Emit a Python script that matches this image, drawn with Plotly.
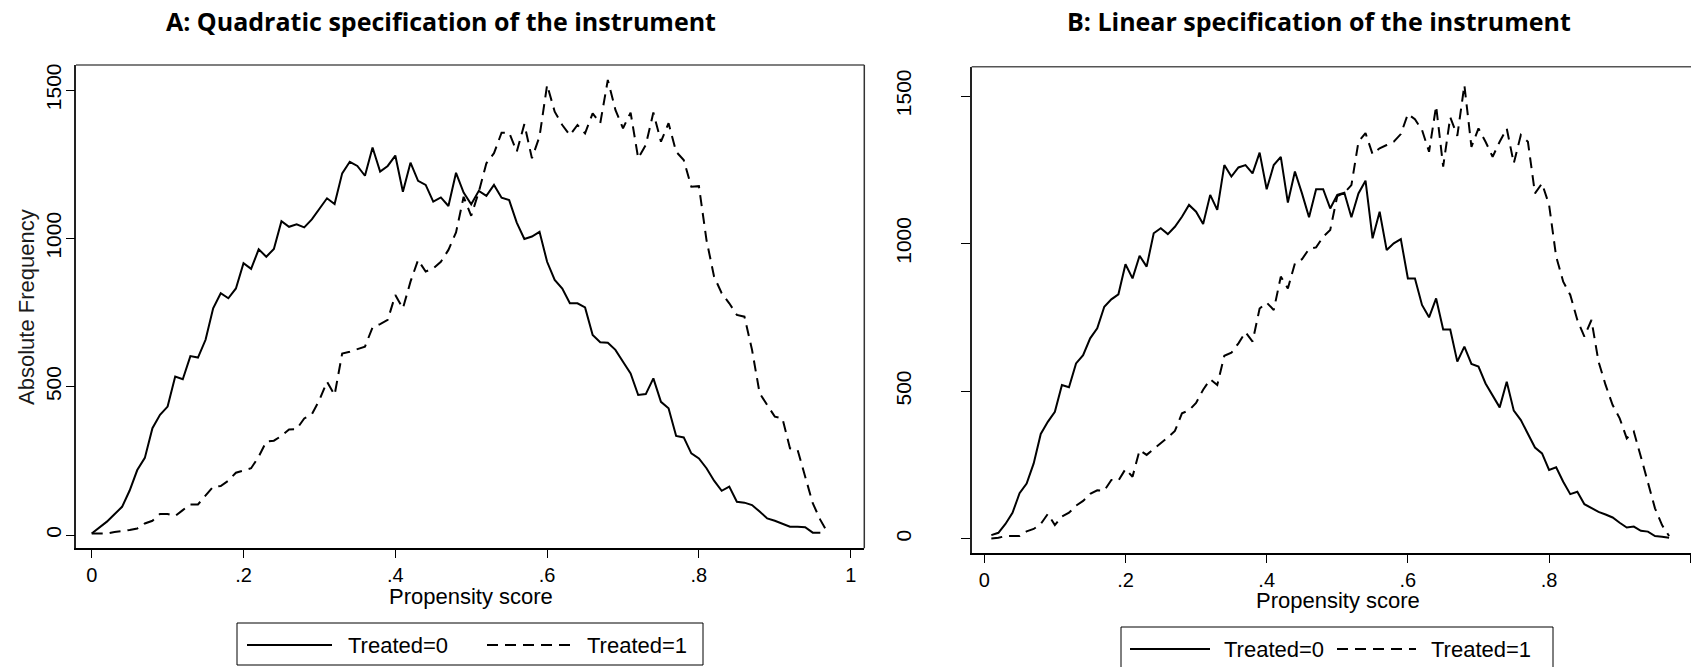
import plotly.graph_objects as go

W, H = 1691, 667

# ---------------- data ----------------
x_a0 = [0.00, 0.01, 0.02, 0.03, 0.04, 0.05, 0.06, 0.07, 0.08, 0.09,
        0.10, 0.11, 0.12, 0.13, 0.14, 0.15, 0.16, 0.17, 0.18, 0.19,
        0.20, 0.21, 0.22, 0.23, 0.24, 0.25, 0.26, 0.27, 0.28, 0.29,
        0.30, 0.31, 0.32, 0.33, 0.34, 0.35, 0.36, 0.37, 0.38, 0.39,
        0.40, 0.41, 0.42, 0.43, 0.44, 0.45, 0.46, 0.47, 0.48, 0.49,
        0.50, 0.51, 0.52, 0.53, 0.54, 0.55, 0.56, 0.57, 0.58, 0.59,
        0.60, 0.61, 0.62, 0.63, 0.64, 0.65, 0.66, 0.67, 0.68, 0.69,
        0.70, 0.71, 0.72, 0.73, 0.74, 0.75, 0.76, 0.77, 0.78, 0.79,
        0.80, 0.81, 0.82, 0.83, 0.84, 0.85, 0.86, 0.87, 0.88, 0.89,
        0.90, 0.91, 0.92, 0.93, 0.94, 0.95, 0.96]
freq_a0 = [5, 25, 45, 70, 95, 150, 219, 260, 360, 405,
           433, 534, 525, 603, 598, 658, 764, 815, 798, 831,
           916, 897, 963, 938, 964, 1058, 1039, 1047, 1037, 1064,
           1101, 1135, 1116, 1219, 1258, 1244, 1211, 1306, 1225, 1244,
           1279, 1157, 1255, 1194, 1180, 1124, 1138, 1109, 1221, 1154,
           1115, 1160, 1143, 1180, 1137, 1129, 1053, 998, 1006, 1022,
           921, 860, 831, 781, 781, 767, 674, 650, 648, 624,
           584, 545, 472, 475, 528, 449, 427, 334, 329, 275,
           258, 225, 183, 149, 163, 112, 109, 101, 79, 56,
           48, 37, 28, 28, 26, 8, 8]

x_a1 = [0.00, 0.01, 0.02, 0.03, 0.04, 0.05, 0.06, 0.07, 0.08, 0.09,
        0.10, 0.11, 0.12, 0.13, 0.14, 0.15, 0.16, 0.17, 0.18, 0.19,
        0.20, 0.21, 0.22, 0.23, 0.24, 0.25, 0.26, 0.27, 0.28, 0.29,
        0.30, 0.31, 0.32, 0.33, 0.34, 0.35, 0.36, 0.37, 0.38, 0.39,
        0.40, 0.41, 0.42, 0.43, 0.44, 0.45, 0.46, 0.47, 0.48, 0.49,
        0.50, 0.51, 0.52, 0.53, 0.54, 0.55, 0.56, 0.57, 0.58, 0.59,
        0.60, 0.61, 0.62, 0.63, 0.64, 0.65, 0.66, 0.67, 0.68, 0.69,
        0.70, 0.71, 0.72, 0.73, 0.74, 0.75, 0.76, 0.77, 0.78, 0.79,
        0.80, 0.81, 0.82, 0.83, 0.84, 0.85, 0.86, 0.87, 0.88, 0.89,
        0.90, 0.91, 0.92, 0.93, 0.94, 0.95, 0.96, 0.97]
freq_a1 = [5, 5, 5, 10, 13, 17, 22, 39, 48, 71,
           71, 64, 84, 103, 103, 135, 163, 165, 183, 210,
           217, 225, 264, 315, 318, 334, 356, 357, 393, 407,
           455, 517, 472, 612, 618, 626, 635, 700, 711, 725,
           809, 764, 854, 927, 888, 899, 921, 961, 1020, 1140,
           1076, 1157, 1253, 1287, 1356, 1356, 1292, 1385, 1270, 1343,
           1517, 1427, 1382, 1348, 1382, 1354, 1421, 1388, 1534, 1433,
           1371, 1424, 1270, 1315, 1424, 1326, 1388, 1292, 1264, 1174,
           1176, 994, 871, 815, 781, 742, 736, 624, 478, 438,
           399, 393, 292, 287, 197, 107, 51, 6]

x_b = [0.01, 0.02, 0.03, 0.04, 0.05, 0.06, 0.07, 0.08, 0.09,
       0.10, 0.11, 0.12, 0.13, 0.14, 0.15, 0.16, 0.17, 0.18, 0.19,
       0.20, 0.21, 0.22, 0.23, 0.24, 0.25, 0.26, 0.27, 0.28, 0.29,
       0.30, 0.31, 0.32, 0.33, 0.34, 0.35, 0.36, 0.37, 0.38, 0.39,
       0.40, 0.41, 0.42, 0.43, 0.44, 0.45, 0.46, 0.47, 0.48, 0.49,
       0.50, 0.51, 0.52, 0.53, 0.54, 0.55, 0.56, 0.57, 0.58, 0.59,
       0.60, 0.61, 0.62, 0.63, 0.64, 0.65, 0.66, 0.67, 0.68, 0.69,
       0.70, 0.71, 0.72, 0.73, 0.74, 0.75, 0.76, 0.77, 0.78, 0.79,
       0.80, 0.81, 0.82, 0.83, 0.84, 0.85, 0.86, 0.87, 0.88, 0.89,
       0.90, 0.91, 0.92, 0.93, 0.94, 0.95, 0.96, 0.97]
freq_b0 = [12, 20, 50, 88, 154, 187, 255, 355, 396,
           430, 521, 513, 594, 622, 679, 713, 786, 811, 828,
           930, 882, 959, 922, 1035, 1052, 1032, 1057, 1091, 1131,
           1108, 1066, 1165, 1114, 1266, 1227, 1258, 1266, 1238, 1308,
           1184, 1266, 1294, 1139, 1244, 1170, 1089, 1184, 1184, 1119,
           1165, 1172, 1089, 1170, 1213, 1018, 1108, 978, 1001, 1015,
           882, 882, 792, 750, 814, 709, 709, 600, 651, 592,
           583, 526, 487, 445, 532, 434, 402, 357, 309, 289,
           233, 242, 193, 151, 159, 117, 103, 91, 82, 72,
           54, 38, 41, 27, 24, 9, 7, 3]
freq_b1 = [1, 3, 9, 9, 9, 25, 33, 50, 84,
           46, 75, 88, 112, 128, 152, 164, 163, 199, 197,
           236, 210, 300, 284, 304, 322, 343, 365, 425, 435,
           460, 505, 540, 521, 620, 630, 662, 700, 668, 780,
           800, 775, 888, 848, 933, 947, 982, 987, 1023, 1046,
           1161, 1172, 1198, 1345, 1374, 1303, 1323, 1334, 1345, 1371,
           1439, 1421, 1385, 1311, 1466, 1261, 1428, 1365, 1537, 1328,
           1390, 1345, 1294, 1345, 1390, 1272, 1368, 1345, 1170, 1204,
           1131, 956, 871, 826, 741, 685, 741, 600, 521, 453,
           408, 340, 363, 278, 188, 103, 46, 9]

x_tickvals = [0, 0.2, 0.4, 0.6, 0.8, 1]
x_ticktext = ["0", ".2", ".4", ".6", ".8", "1"]
y_tickvals = [0, 500, 1000, 1500]
y_ticktext = ["0", "500", "1000", "1500"]

series_names = ["Treated=0", "Treated=1"]
panel_titles = ["A: Quadratic specification of the instrument",
                "B: Linear specification of the instrument"]
x_title = "Propensity score"
y_title = "Absolute Frequency"

# ---------------- styles ----------------
ARIAL = "Liberation Sans, Arial, sans-serif"
XTICKFONT = dict(family=ARIAL, size=20, color="#000000")
YTICKFONT = dict(family=ARIAL, size=21, color="#000000")
LABFONT = dict(family=ARIAL, size=22, color="#000000")
LEGFONT = dict(family=ARIAL, size=22, color="#000000")
TITLEFONT = dict(family="Open Sans, Noto Sans, sans-serif", size=25, color="#000000",
                 weight="bold")
SOLID = dict(color="#000000", width=2)
DASHED = dict(color="#000000", width=2, dash="11px,7px")

YA_RANGE = [-44.8, 1584.3]
YB_RANGE = [-47.4, 1599.3]

fig = go.Figure()

# Panel A: solid series on y3 (same scale as y, which carries the tick marks),
# dashed series on y (which carries the tick labels)
fig.add_trace(go.Scatter(x=x_a0, y=freq_a0, mode="lines", line=SOLID,
                         name=series_names[0], xaxis="x", yaxis="y3", showlegend=False))
fig.add_trace(go.Scatter(x=x_a1, y=freq_a1, mode="lines", line=DASHED,
                         name=series_names[1], xaxis="x", yaxis="y", showlegend=False))
fig.add_trace(go.Scatter(x=x_b, y=freq_b0, mode="lines", line=SOLID,
                         name=series_names[0], xaxis="x2", yaxis="y2", showlegend=False))
fig.add_trace(go.Scatter(x=x_b, y=freq_b1, mode="lines", line=DASHED,
                         name=series_names[1], xaxis="x2", yaxis="y2", showlegend=False))


def px_x(p):
    return p / W


def px_y(p):
    return 1 - p / H


common_x = dict(tickvals=x_tickvals, ticktext=x_ticktext, ticks="outside", ticklen=8,
                tickwidth=1, tickcolor="#000000", showline=True, linecolor="#000000",
                linewidth=2, showgrid=False, zeroline=False, tickfont=XTICKFONT,
                fixedrange=True)
common_y = dict(tickvals=y_tickvals, ticktext=y_ticktext, showline=True, linecolor="#222222",
                linewidth=1.5, showgrid=False, zeroline=False, tickfont=YTICKFONT,
                tickangle=-90, fixedrange=True)
tick_only_y = dict(tickvals=y_tickvals, ticks="outside", ticklen=9, tickwidth=1,
                   tickcolor="#000000", showticklabels=False, showline=False,
                   showgrid=False, zeroline=False, fixedrange=True, side="left")

shapes = [
    dict(type="line", xref="x domain", yref="y domain", x0=0, x1=1, y0=1, y1=1,
         line=dict(color="#555555", width=1.5)),
    dict(type="line", xref="x domain", yref="y domain", x0=1, x1=1, y0=0, y1=1,
         line=dict(color="#333333", width=1.5)),
    dict(type="line", xref="x2 domain", yref="y2 domain", x0=0, x1=1, y0=1, y1=1,
         line=dict(color="#555555", width=1.5)),
]
annotations = [
    dict(text=panel_titles[0], x=px_x(441), y=px_y(20.5), xref="paper", yref="paper",
         showarrow=False, font=TITLEFONT, xanchor="center", yanchor="middle"),
    dict(text=panel_titles[1], x=px_x(1319), y=px_y(20.5), xref="paper", yref="paper",
         showarrow=False, font=TITLEFONT, xanchor="center", yanchor="middle"),
    dict(text=x_title, x=px_x(471), y=px_y(596), xref="paper", yref="paper",
         showarrow=False, font=LABFONT, xanchor="center", yanchor="middle"),
    dict(text=x_title, x=px_x(1338), y=px_y(600), xref="paper", yref="paper",
         showarrow=False, font=LABFONT, xanchor="center", yanchor="middle"),
    dict(text=y_title, x=px_x(26), y=px_y(307), xref="paper", yref="paper",
         showarrow=False, font=dict(LABFONT, color="#1a1a1a"), textangle=-90,
         xanchor="center", yanchor="middle"),
]

legend_boxes = [
    dict(box=(237, 623, 703, 665), yc=645,
         items=[(247, 332, 346, SOLID), (487, 572, 585, DASHED)]),
    dict(box=(1121, 627, 1553, 700), yc=649,
         items=[(1130, 1210, 1222, SOLID), (1337, 1416, 1429, DASHED)]),
]
for lb in legend_boxes:
    x0, y0, x1, y1 = lb["box"]
    shapes.append(dict(type="rect", xref="paper", yref="paper",
                       x0=px_x(x0), x1=px_x(x1), y0=px_y(y0), y1=px_y(y1),
                       line=dict(color="#000000", width=1), fillcolor="white", layer="above"))
    for (sx0, sx1, tx, style), name in zip(lb["items"], series_names):
        ln = dict(color=style["color"], width=style["width"])
        if "dash" in style:
            ln["dash"] = style["dash"]
        shapes.append(dict(type="line", xref="paper", yref="paper",
                           x0=px_x(sx0), x1=px_x(sx1), y0=px_y(lb["yc"]), y1=px_y(lb["yc"]),
                           line=ln, layer="above"))
        annotations.append(dict(text=name, x=px_x(tx), y=px_y(lb["yc"]), xref="paper",
                                yref="paper", showarrow=False, font=LEGFONT,
                                xanchor="left", yanchor="middle"))

fig.update_layout(
    width=W, height=H,
    paper_bgcolor="white", plot_bgcolor="white",
    margin=dict(l=0, r=0, t=0, b=0, autoexpand=False),
    xaxis=dict(domain=[px_x(76), px_x(864.3)], range=[-0.0207, 1.0179], anchor="y", **common_x),
    yaxis=dict(domain=[px_y(548.3), px_y(65)], range=YA_RANGE, anchor="x",
               ticks="", ticklabelstandoff=5, **common_y),
    yaxis3=dict(overlaying="y", anchor="x", range=YA_RANGE, **tick_only_y),
    xaxis2=dict(domain=[px_x(971.7), 1.0], range=[-0.0178, 1.001], anchor="y2", **common_x),
    yaxis2=dict(domain=[px_y(552.7), px_y(66.7)], range=YB_RANGE, anchor="x2",
                ticks="outside", ticklen=9, tickwidth=1, tickcolor="#000000",
                ticklabelstandoff=42, **common_y),
    shapes=shapes,
    annotations=annotations,
)

fig.write_html("out.html", config={"displayModeBar": False},
               post_script="document.body.style.margin='0';")
